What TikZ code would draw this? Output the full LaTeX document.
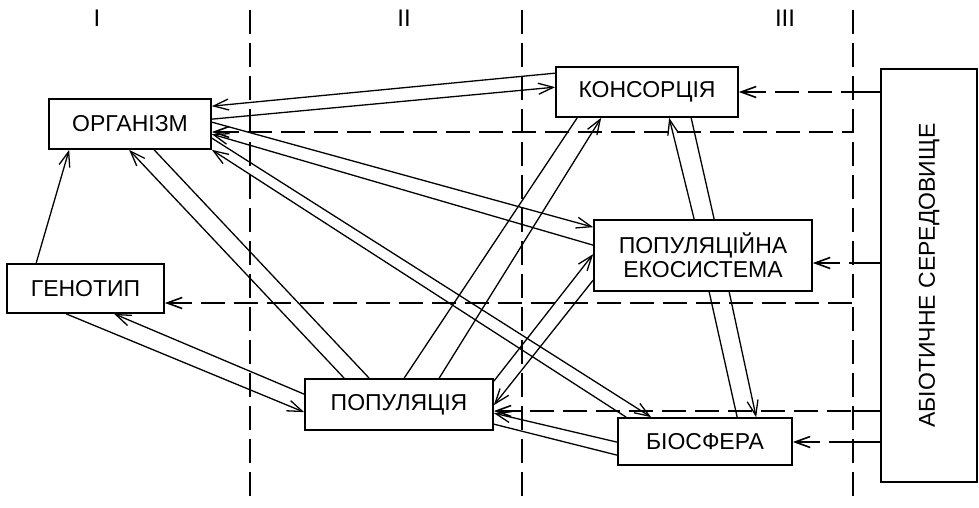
\documentclass[tikz,border=0pt]{standalone}
\usepackage{fontspec}
\setmainfont{Liberation Sans}
\usetikzlibrary{calc, positioning}
\usetikzlibrary{arrows.meta}

\tikzset{
  box/.style={draw,line width=1.7pt,inner sep=0pt,align=center,font=\fontsize{23}{24}\selectfont},
  link/.style={line width=1.3pt},
  arr/.style={link,-{Straight Barb[length=15pt,width=11pt]}},
  sep/.style={line width=1.6pt,dash pattern=on 24pt off 9pt},
  dline/.style={sep,{Straight Barb[length=15pt,width=11pt]}-},
  stub/.style={line width=1.6pt}
}

\begin{document}
\begin{tikzpicture}[x=1pt,y=-1pt]
\def\busx{853}
\useasboundingbox (0,0) rectangle (979,507);

% columns
\foreach \x in {250,522,\busx}
  \draw[sep] (\x,10) -- (\x,500);
\foreach \name/\x/\txt in {c1/97/I, c2/404/II, c3/785/III}
  \node[font=\fontsize{24}{24}\selectfont] (\name) at (\x,18) {\txt};

% levels
\node[box,minimum width=162pt,minimum height=50pt] (org) at (130,124) {ОРГАНІЗМ};
\node[box,minimum width=182pt,minimum height=50pt] (kons) at (647,92) {КОНСОРЦІЯ};
\node[box,minimum width=218pt,minimum height=71pt] (eko) at (703,255.5) {ПОПУЛЯЦІЙНА\\ЕКОСИСТЕМА};
\node[box,minimum width=157pt,minimum height=49pt] (gen) at (85.5,288.5) {ГЕНОТИП};
\node[box,minimum width=188pt,minimum height=51pt] (pop) at (399,404.5) {ПОПУЛЯЦІЯ};
\node[box,minimum width=174pt,minimum height=47pt] (bio) at (705,441.5) {БІОСФЕРА};
\node[box,minimum width=96pt,minimum height=413pt] (abio) at (929,275.5) {\rotatebox{90}{АБІОТИЧНЕ СЕРЕДОВИЩЕ}};

% genotype
\draw[arr] ([xshift=30pt]gen.north west) -- ([xshift=21pt]org.south west);
\draw[arr] ([xshift=60pt]gen.south west) -- ([yshift=-34pt]pop.north west);
\draw[arr] ([yshift=-16pt]pop.north west) -- ([xshift=108pt]gen.south west);

% organism
\draw[arr] ([xshift=40pt]pop.north west) -- ([xshift=81pt]org.south west);
\draw[link] ([xshift=106pt]org.south west) -- ([xshift=65pt]pop.north west);
\draw[arr] ([yshift=-7pt]kons.north west) -- ([yshift=-8pt]org.north east);
\draw[arr] ([yshift=-21pt]org.north east) -- ([yshift=-21pt]kons.north west);
\draw[arr] ([yshift=-24pt]org.north east) -- ([yshift=-8pt]eko.north west);
\draw[arr] ([yshift=-26pt]eko.north west) -- ([yshift=-36pt]org.north east);
\draw[arr] ([yshift=-40pt]org.north east) -- ([xshift=34pt]bio.north west);
\draw[arr] ([xshift=9pt]bio.north west) -- (org.south east);

% population
\draw[link] ([xshift=100pt]pop.north west) -- ([xshift=22pt]kons.south west);
\draw[arr] ([xshift=135pt]pop.north west) -- ([xshift=46pt]kons.south west);
\draw[arr] ([yshift=-3pt]pop.north east) -- ([yshift=-35pt]eko.north west);
\draw[arr] ([yshift=-61pt]eko.north west) -- ([yshift=-27pt]pop.north east);
\draw[arr] ([yshift=-25pt]bio.north west) -- ([yshift=-35pt]pop.north east);
\draw[link] ([yshift=-38pt]bio.north west) -- ([yshift=-46pt]pop.north east);

% ecosystem
\draw[arr] ([xshift=101pt]eko.north west) -- ([xshift=114pt]kons.south west);
\draw[link] ([xshift=121pt]eko.north west) -- ([xshift=136pt]kons.south west);
\draw[link] ([xshift=116pt]eko.south west) -- ([xshift=120pt]bio.north west);
\draw[arr] ([xshift=136pt]eko.south west) -- ([xshift=139pt]bio.north west);

% abiotic environment
\foreach \name/\y in {b1/92, b2/132, b3/263, b4/303, b5/411, b6/442}
  \coordinate (\name) at (\busx,\y);
\foreach \name in {b1,b3,b5,b6}
  \draw[stub] (\name) -- (abio.west |- \name);
\draw[dline] (kons.east |- b1) -- (b1);
\draw[dline] (org.east |- b2) -- (b2);
\draw[dline] (eko.east |- b3) -- (b3);
\draw[dline] (gen.east |- b4) -- (b4);
\draw[dline] (pop.east |- b5) -- (b5);
\draw[dline] (bio.east |- b6) -- (b6);
\end{tikzpicture}
\end{document}
